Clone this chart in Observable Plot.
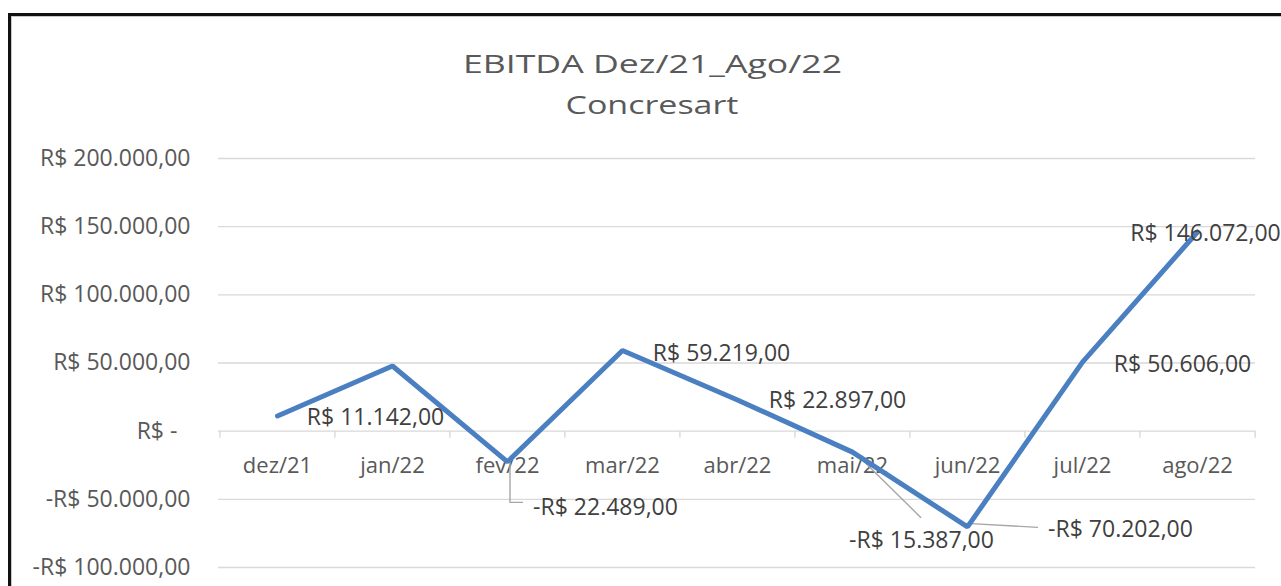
<!DOCTYPE html>
<html><head><meta charset="utf-8">
<script src="https://cdn.jsdelivr.net/npm/d3@7"></script>
<script src="https://cdn.jsdelivr.net/npm/@observablehq/plot@0.6"></script>
<style>
html,body{margin:0;padding:0;background:#fff;overflow:hidden;}
#wrap{position:relative;width:1281px;height:586px;overflow:hidden;background:#fff;}
#chart{position:absolute;left:0;top:0;}
#frame{position:absolute;left:8px;top:13px;width:1320px;height:640px;border:3px solid #111;box-shadow:inset 1px 1px 0 #c8c8c8;pointer-events:none;}
</style></head>
<body><div id="wrap"><div id="chart"></div><div id="frame"></div></div>
<script>
// ---- data ----
const categories = ["dez/21","jan/22","fev/22","mar/22","abr/22","mai/22","jun/22","jul/22","ago/22"];
const ebitda = [11142, 47800, -22489, 59219, 22897, -15387, -70202, 50606, 146072];
const yTicks = [-100000, -50000, 0, 50000, 100000, 150000, 200000];
const yTickLabels = ["-R$ 100.000,00", "-R$ 50.000,00", "R$ -\u2007", "R$ 50.000,00", "R$ 100.000,00", "R$ 150.000,00", "R$ 200.000,00"];
const titleLines = ["EBITDA Dez/21_Ago/22", "Concresart"];
// label placement (pixel offsets from the point); null = no label
const labelOffsets = [[98, 2], null, [98, 46], [99, 3], [100, 1], [69, 88], [153, 3], [100, 2], [8, 2]];
// leader lines (pixel offsets from the point)
const leaderPaths = [null, null, [[3, 2], [3, 41], [16, 41]], null, null, [[0, -2], [69, 66]], [[0, -3], [71, 1]], null, null];

// ---- layout ----
const W = 1281, H = 586;
const mL = 218, mR = 26, mT = 158, mB = 19;
const step = (W - mL - mR) / categories.length;

const fmt = d3.formatLocale({decimal: ",", thousands: ".", grouping: [3], currency: ["R$ ", ""], minus: "-"}).format("$,.2f");
const data = categories.map((c, i) => ({cat: c, value: ebitda[i], i}));

const labelMarks = data.filter(d => labelOffsets[d.i]).map(d =>
  Plot.text([d], {x: "cat", y: "value", text: v => fmt(v.value), dx: labelOffsets[d.i][0], dy: labelOffsets[d.i][1],
    fontSize: 23, fill: "#404040", textAnchor: "middle"}));

function leaders(index, scales) {
  const g = d3.create("svg:g");
  data.forEach(d => {
    const p = leaderPaths[d.i];
    if (!p) return;
    const px = scales.x(d.cat), py = scales.y(d.value);
    g.append("path")
      .attr("d", d3.line()(p.map(([a, b]) => [px + a, py + b])))
      .attr("fill", "none").attr("stroke", "#a6a6a6").attr("stroke-width", 1.4);
  });
  return g.node();
}

const chart = Plot.plot({
  width: W, height: H,
  marginLeft: mL, marginRight: mR, marginTop: mT, marginBottom: mB,
  style: {fontFamily: "'Open Sans', sans-serif", background: "transparent", overflow: "visible", color: "#595959"},
  x: {type: "point", domain: categories, padding: 0.5, axis: null},
  y: {domain: [-100000, 200000], axis: null},
  marks: [
    Plot.ruleY(yTicks, {stroke: "#d9d9d9", strokeWidth: 1.4}),
    Plot.ruleX(categories, {x: d => d, y1: () => 0, y2: () => 0, insetBottom: -7, dx: -step / 2, stroke: "#d9d9d9", strokeWidth: 1.4}),
    Plot.ruleX([categories[categories.length - 1]], {x: d => d, y1: () => 0, y2: () => 0, insetBottom: -7, dx: step / 2, stroke: "#d9d9d9", strokeWidth: 1.4}),
    Plot.axisY(yTicks, {tickFormat: d => yTickLabels[yTicks.indexOf(d)], tickSize: 0, tickPadding: 28, fontSize: 23, fill: "#595959", label: null}),
    Plot.text(categories, {x: d => d, y: () => 0, text: d => d, lineAnchor: "bottom", dy: 42, fontSize: 22, fill: "#595959"}),
    leaders,
    Plot.line(data, {x: "cat", y: "value", stroke: "#4a7fc1", strokeWidth: 5, strokeLinejoin: "miter", strokeLinecap: "round"}),
    ...labelMarks,
    Plot.text([titleLines[0]], {frameAnchor: "top", dx: -84.5, dy: -86, lineAnchor: "bottom", fontSize: 25, fill: "#595959"}),
    Plot.text([titleLines[1]], {frameAnchor: "top", dx: -85, dy: -45, lineAnchor: "bottom", fontSize: 25, fill: "#595959"})
  ]
});
document.getElementById("chart").appendChild(chart);
const titleWidths = [379, 173];
chart.querySelectorAll("text").forEach(t => {
  const k = titleLines.indexOf(t.textContent);
  if (k >= 0) {
    t.setAttribute("textLength", titleWidths[k]);
    t.setAttribute("lengthAdjust", "spacingAndGlyphs");
  }
});
</script></body></html>
